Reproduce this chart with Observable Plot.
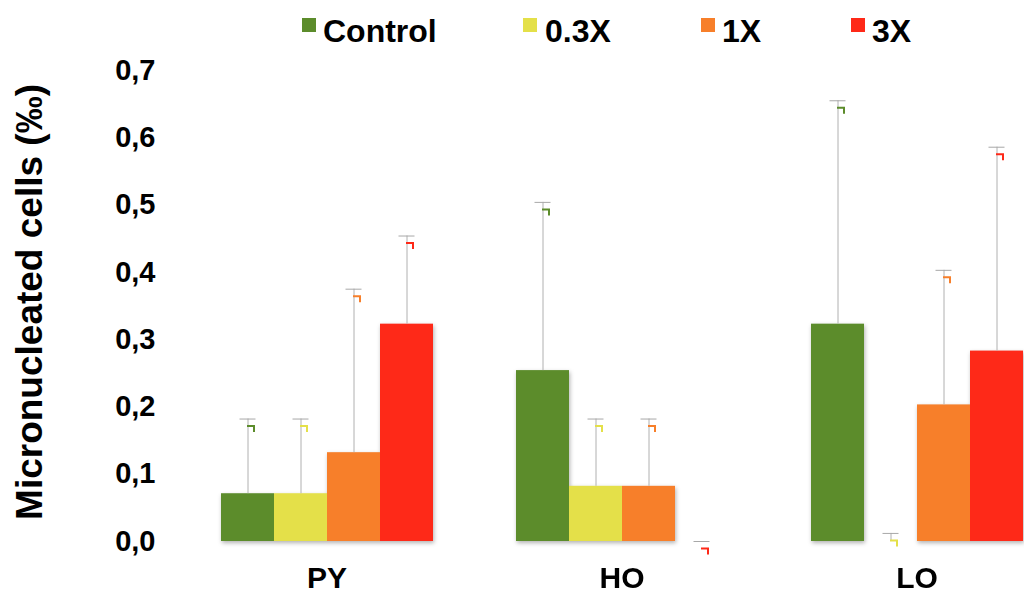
<!DOCTYPE html>
<html>
<head>
<meta charset="utf-8">
<script src="https://cdn.jsdelivr.net/npm/d3@7"></script>
<script src="https://cdn.jsdelivr.net/npm/@observablehq/plot@0.6"></script>
<style>
  html, body { margin: 0; padding: 0; background: #fff; }
  body { width: 1024px; height: 601px; overflow: hidden; font-family: "Liberation Sans", Arial, sans-serif; color: #000; }
  #legend { position: relative; height: 55px; width: 1024px; }
  .sw { position: absolute; top: 18px; width: 14px; height: 14px; }
  .lt { position: absolute; top: 15px; font-size: 32px; line-height: 32px; font-weight: bold; white-space: nowrap; }
</style>
</head>
<body>
<div id="legend"></div>
<div id="chart"></div>
<script>
// ---- data ----
const groups = ["PY", "HO", "LO"];
const series = ["Control", "0.3X", "1X", "3X"];
const colors = ["#5c8c2b", "#e4e049", "#f77f2a", "#fe2918"];
// means per group (PY, HO, LO)
const controlMean = [0.071, 0.254, 0.323];
const x03Mean     = [0.071, 0.082, 0.0];
const x1Mean      = [0.132, 0.082, 0.203];
const x3Mean      = [0.323, 0.0,   0.283];
// upper error (SD) per group
const controlSd = [0.111, 0.250, 0.332];
const x03Sd     = [0.111, 0.100, 0.012];
const x1Sd      = [0.243, 0.100, 0.200];
const x3Sd      = [0.131, 0.000, 0.303];
const yTicks = [0, 0.1, 0.2, 0.3, 0.4, 0.5, 0.6, 0.7];
const yLabel = "Micronucleated cells (‰)";

const meansBySeries = [controlMean, x03Mean, x1Mean, x3Mean];
const sdBySeries = [controlSd, x03Sd, x1Sd, x3Sd];
const table = [];
groups.forEach((g, i) => series.forEach((s, j) => {
  table.push({group: g, series: s, mean: meansBySeries[j][i], top: meansBySeries[j][i] + sdBySeries[j][i]});
}));

// legend
const legendPos = [[302, 323], [523, 545], [701, 722], [851, 872]];
const legend = document.getElementById("legend");
series.forEach((s, j) => {
  const sw = document.createElement("div");
  sw.className = "sw"; sw.style.left = legendPos[j][0] + "px"; sw.style.background = colors[j];
  const t = document.createElement("div");
  t.className = "lt"; t.style.left = legendPos[j][1] + "px"; t.textContent = s;
  legend.appendChild(sw); legend.appendChild(t);
});

// corner mark symbol below error cap
const corner = {
  draw(context) {
    context.moveTo(-1, 0);
    context.lineTo(6, 0);
    context.lineTo(6, 6);
  }
};

const chart = Plot.plot({
  width: 1024,
  height: 546,
  marginLeft: 220,
  marginRight: 1,
  marginTop: 15,
  marginBottom: 60,
  style: {fontFamily: "'Liberation Sans', Arial, sans-serif", color: "#000", background: "#fff", overflow: "visible"},
  fx: {domain: groups, paddingInner: 0.278, paddingOuter: 0},
  x: {domain: series, padding: 0, axis: null},
  y: {domain: [0, 0.7]},
  color: {domain: series, range: colors},
  marks: [
    Plot.barY(table, {fx: "group", x: "series", y: "mean", fill: "series"}),
    Plot.ruleX(table, {fx: "group", x: "series", y1: "mean", y2: "top", stroke: "#b0b0b0", strokeWidth: 1}),
    Plot.tickY(table, {fx: "group", x: "series", y: "top", stroke: "#a8a8a8", strokeWidth: 1, insetLeft: 18.5, insetRight: 18.5}),
    Plot.dot(table, {fx: "group", x: "series", y: "top", symbol: corner, stroke: "series", fill: "none", strokeWidth: 2, dy: 7}),
    Plot.axisY({ticks: yTicks, tickSize: 0, tickPadding: 65, tickFormat: d => d.toFixed(1).replace(".", ","), fontSize: 29, fontWeight: "bold", label: null}),
    Plot.axisFx({anchor: "bottom", tickSize: 0, tickPadding: 25, fontSize: 30, fontWeight: "bold", label: null}),
    Plot.text([{group: "PY"}], {fx: "group", text: () => yLabel, frameAnchor: "left", textAnchor: "middle", rotate: -90, dx: -190, dy: -4, fontSize: 37, fontWeight: "bold"})
  ]
});
document.getElementById("chart").appendChild(chart);
const barG = chart.querySelector('g[aria-label="bar"]');
if (barG) barG.style.filter = "drop-shadow(1px 2px 2px rgba(0,0,0,0.3))";
</script>
</body>
</html>
